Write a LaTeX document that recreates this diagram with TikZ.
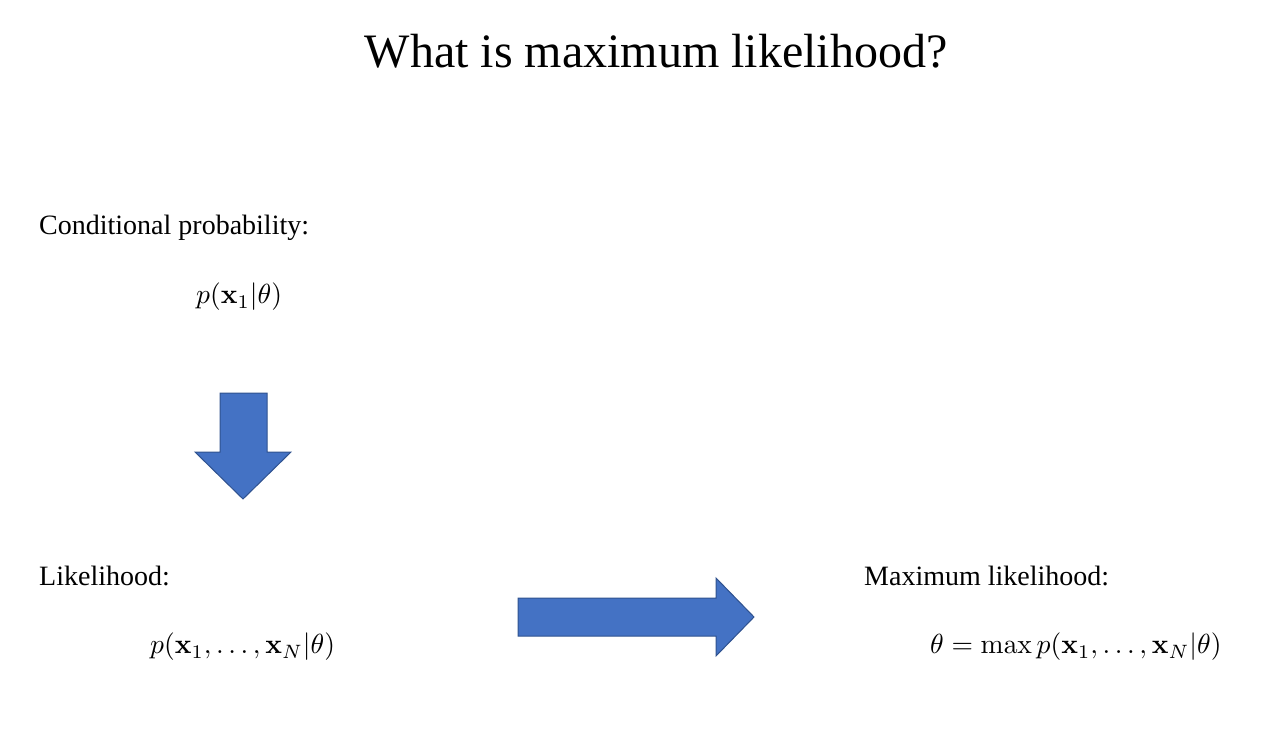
\documentclass[tikz,border=0pt]{standalone}
\usepackage[no-math]{fontspec}
\usepackage{graphicx}
\setmainfont{Liberation Serif}
\newcommand{\bigeq}[1]{\scalebox{2.76}{\fontsize{10}{12}\selectfont$#1$}}
\begin{document}
\begin{tikzpicture}[x=1pt,y=-1pt,
  lbl/.style={anchor=base west,inner sep=0pt,font=\fontsize{28}{32}\selectfont},
  eq/.style={anchor=west,inner sep=0pt},
  blockarrow/.style={fill={rgb,255:red,68;green,114;blue,196},draw={rgb,255:red,47;green,82;blue,143},line width=1pt,line join=miter}]
\useasboundingbox (0,0) rectangle (1272,735);
\node[anchor=base,inner sep=0pt,font=\fontsize{48}{56}\selectfont] (title) at (656,68) {What is maximum likelihood?};
\node[lbl] (cond) at (39,235) {Conditional probability:};
\node[eq] (condeq) at (196,297) {\bigeq{p(\mathbf{x}_1|\theta)}};
\draw[blockarrow] (220,393) -- (267,393) -- (267,452) -- (291,452) -- (243,499) -- (195,452) -- (220,452) -- cycle;
\node[lbl] (lik) at (39,585) {Likelihood:};
\node[eq] (likeq) at (150,647) {\bigeq{p(\mathbf{x}_1,\ldots,\mathbf{x}_N|\theta)}};
\draw[blockarrow] (518,598) -- (716,598) -- (716,578) -- (754,617) -- (716,656) -- (716,636) -- (518,636) -- cycle;
\node[lbl] (maxlik) at (864,585) {Maximum likelihood:};
\node[eq] (maxeq) at (930,647) {\bigeq{\theta=\max p(\mathbf{x}_1,\ldots,\mathbf{x}_N|\theta)}};
\end{tikzpicture}
\end{document}
